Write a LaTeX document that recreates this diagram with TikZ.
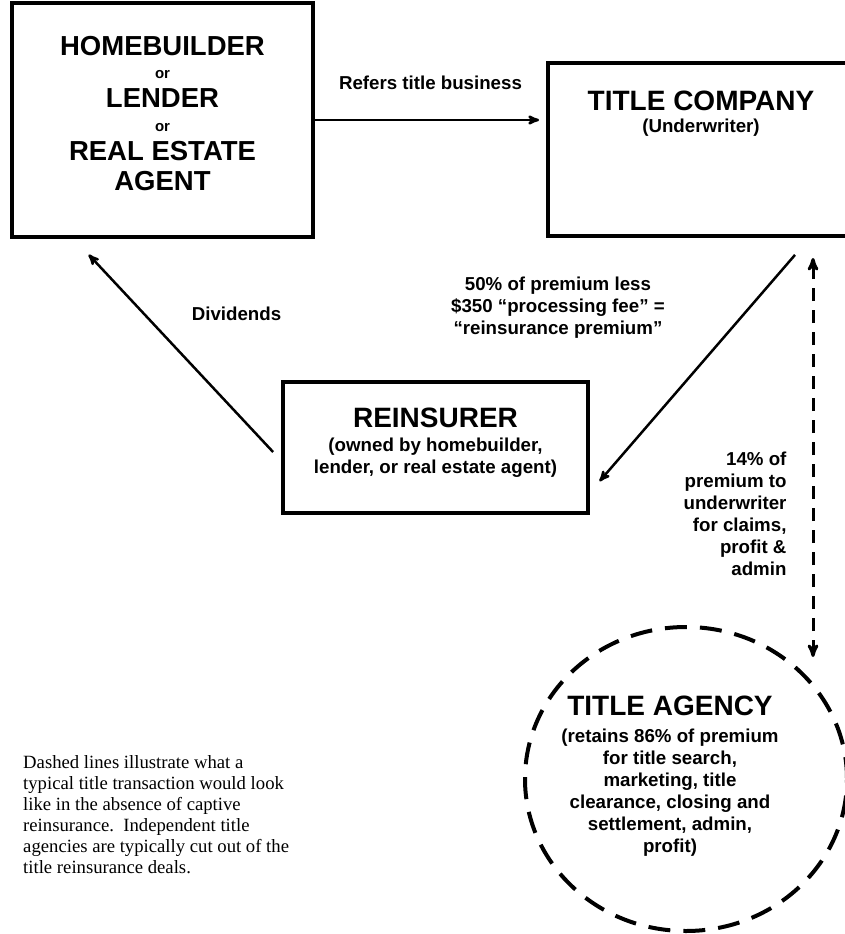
\documentclass[tikz,border=0pt]{standalone}
\usepackage{fontspec}
\setmainfont{Liberation Sans}
\newfontfamily\notefont{Liberation Serif}
\usetikzlibrary{arrows}
\usetikzlibrary{positioning, shapes.geometric}

\begin{document}
\begin{tikzpicture}[x=1pt,y=1pt,>=stealth',
                box/.style={draw,rectangle,line width=3.8pt,inner sep=0pt},
                agency/.style={draw,ellipse,line width=4pt,dash pattern=on 22pt off 13pt},
                big/.style={font=\fontsize{27.5}{24}\selectfont\bfseries},
                small/.style={font=\fontsize{18.7}{22}\selectfont\bfseries},
                flow/.style={->,line width=2.5pt,shorten >=1pt},
                dashflow/.style={<->,line width=3pt,dash pattern=on 13pt off 9pt}]

  \useasboundingbox (0,0) rectangle (845,-934);
  \clip (0,0) rectangle (845,-934);

  % boxes
  \node[box, minimum width=301pt, minimum height=234pt] (agent) at (162.5,-120) {};
  \node[box, minimum width=306pt, minimum height=173pt] (company) at (701,-149.5) {};
  \node[box, minimum width=305pt, minimum height=131pt] (reinsurer) at (435.5,-447.5) {};
  \node[agency, minimum width=322pt, minimum height=304pt] (agency) at (686,-779) {};

  % texts
  \node[big, align=center] (agenttext) at ([yshift=6.5pt]agent.center)
    {HOMEBUILDER\\[-1pt]{\fontsize{15}{15}\selectfont or}\\[5pt]LENDER\\{\fontsize{15}{15}\selectfont or}\\[5pt]REAL ESTATE\\[6pt]AGENT};
  \node[small, align=center, inner sep=0pt, below=30pt of company.north] (companytext)
    {{\fontsize{28}{26}\selectfont TITLE COMPANY}\\(Underwriter)};
  \node[small, align=center, inner sep=0pt, below=28pt of reinsurer.north] (reinsurertext)
    {{\fontsize{28}{26}\selectfont REINSURER}\\[2pt](owned by homebuilder,\\lender, or real estate agent)};
  \node[small, align=center, inner sep=0pt, below=71pt of agency.north, xshift=-16pt] (agencytext)
    {{\fontsize{28}{26}\selectfont TITLE AGENCY}\\[5pt](retains 86\% of premium\\for title search,\\marketing, title\\clearance, closing and\\settlement, admin,\\profit)};

  % connectors
  \draw[flow, shorten >=7pt] (agent.east) -- (agent.east -| company.west)
    node[small, midway, yshift=37pt] (refers) {Refers title business};
  \draw[flow] ([shift={(-8pt,-4.5pt)}]reinsurer.west) -- ([shift={(-74.5pt,-15pt)}]agent.south)
    node[small, midway, xshift=56pt, yshift=39pt] (dividends) {Dividends};
  \draw[flow] ([shift={(94pt,-17pt)}]company.south) -- ([shift={(9pt,-34.5pt)}]reinsurer.east)
    node[small, align=center, midway, xshift=-139pt, yshift=60.5pt] (premium)
    {50\% of premium less\\\$350 “processing fee” =\\“reinsurance premium”};

  \coordinate (uwtip) at (813,-258);
  \coordinate (agtip) at (813,-657);
  \draw[dashflow] (agtip) -- (uwtip);
  \node[small, align=right, anchor=east] (cut) at (790,-514)
    {14\% of\\premium to\\underwriter\\for claims,\\profit \&\\admin};

  % note
  \node[anchor=north west, inner sep=0pt, align=left, font=\notefont\fontsize{18.7}{21}\selectfont] (note) at (23,-755)
    {Dashed lines illustrate what a\\typical title transaction would look\\like in the absence of captive\\reinsurance.\ \ Independent title\\agencies are typically cut out of the\\title reinsurance deals.};
\end{tikzpicture}
\end{document}
